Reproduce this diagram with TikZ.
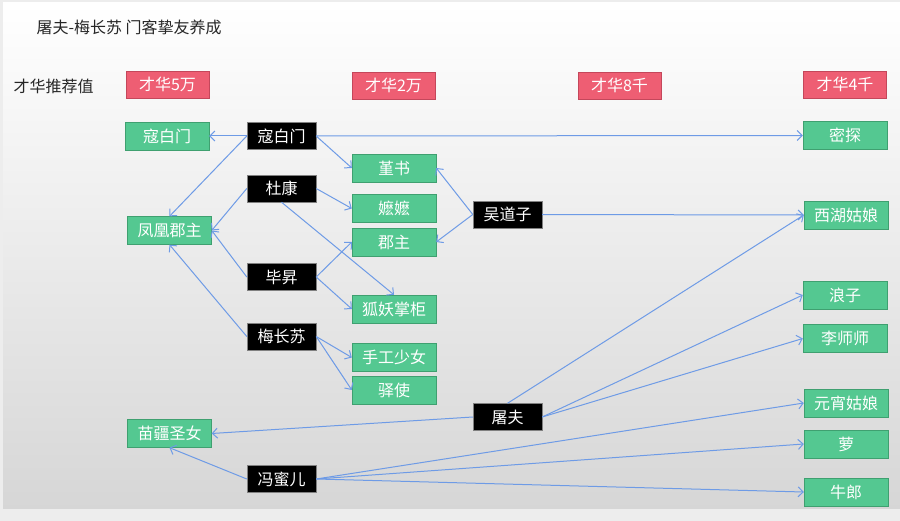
\documentclass[tikz,border=0pt]{standalone}
\usepackage{fontspec}
\setmainfont{Noto Sans CJK SC}
\usetikzlibrary{arrows.meta}
\definecolor{gbox}{HTML}{54C891}
\definecolor{gline}{HTML}{3FA070}
\definecolor{rbox}{HTML}{EE5E73}
\definecolor{rline}{HTML}{C4475B}
\definecolor{link}{HTML}{6E9BE6}

\begin{document}
\begin{tikzpicture}[x=1pt, y=-1pt,
  font=\fontsize{16}{19}\selectfont,
  level/.style={draw=rline, fill=rbox, text=white, minimum width=83pt, minimum height=27pt, inner sep=0pt},
  guest/.style={draw=gline, fill=gbox, text=white, minimum width=84pt, minimum height=28pt, inner sep=0pt},
  host/.style={draw=gray, fill=black, text=white, minimum width=69pt, minimum height=27pt, inner sep=0pt},
  link/.style={draw=link, line width=1pt, -{Straight Barb[length=5pt, width=10pt]}}]
  \useasboundingbox (0,0) rectangle (900,521);
  \fill[black!7] (0,0) rectangle (900,521);
  \shade[top color=white, middle color=black!4, bottom color=black!16] (3,3) rectangle (900,508);

  \node[anchor=west, text=black!85] (title) at (33,27) {屠夫-梅长苏 门客挚友养成};
  \node[anchor=west, text=black!85] (rank) at (10,86) {才华推荐值};

  \node[level] (l1) at (167.5,84.5) {才华5万};
  \node[level] (l2) at (393.5,85.5) {才华2万};
  \node[level] (l3) at (619.5,85.5) {才华8千};
  \node[level] (l4) at (845,84.5) {才华4千};

  % hosts
  \node[host] (kbm) at (281.5,136) {寇白门};
  \node[host] (dk) at (281.5,188.5) {杜康};
  \node[host] (bs) at (281.5,277) {毕昇};
  \node[host] (mcs) at (281.5,336.5) {梅长苏};
  \node[host] (fme) at (281.5,479) {冯蜜儿};
  \node[host] (wdz) at (507.5,214.5) {吴道子};
  \node[host] (tf) at (507.5,417) {屠夫};

  % guests
  \node[guest] (kbmg) at (167,136) {寇白门};
  \node[guest] (fhjz) at (169.5,230.5) {凤凰郡主};
  \node[guest] (mjsn) at (169.5,433.5) {苗疆圣女};

  \node[guest] (js) at (394,168) {堇书};
  \node[guest] (mm) at (394,208.5) {嬷嬷};
  \node[guest] (jz) at (394,242) {郡主};
  \node[guest] (hy) at (394,309) {狐妖掌柜};
  \node[guest] (sg) at (394,357.5) {手工少女};
  \node[guest] (ys) at (394,390) {驿使};

  \node[guest] (mt) at (845,135.5) {密探};
  \node[guest] (xh) at (846,215) {西湖姑娘};
  \node[guest] (lz) at (845,295) {浪子};
  \node[guest] (lss) at (845,338.5) {李师师};
  \node[guest] (yx) at (846,403) {元宵姑娘};
  \node[guest] (luo) at (846,444) {萝};
  \node[guest] (nl) at (846,492) {牛郎};

  % links
  \draw[link] (kbm.west) -- (kbmg.east);
  \draw[link] (kbm.west) -- (fhjz.north);
  \draw[link] (kbm.east) -- (js.west);
  \draw[link] (kbm.east) -- (mt.west);
  \draw[link] (dk.west) -- (fhjz.east);
  \draw[link] (dk.east) -- (mm.west);
  \draw[link] (dk.south) -- (hy.north);
  \draw[link] (bs.west) -- (fhjz.east);
  \draw[link] (bs.east) -- (jz.west);
  \draw[link] (bs.east) -- (hy.west);
  \draw[link] (mcs.west) -- (fhjz.south);
  \draw[link] (mcs.east) -- (sg.west);
  \draw[link] (mcs.east) -- (ys.west);
  \draw[link] (wdz.west) -- (js.east);
  \draw[link] (wdz.west) -- (jz.east);
  \draw[link] (wdz.east) -- (xh.west);
  \draw[link] (tf.north) -- (xh.west);
  \draw[link] (tf.east) -- (lz.west);
  \draw[link] (tf.east) -- (lss.west);
  \draw[link] (tf.west) -- (mjsn.east);
  \draw[link] (fme.west) -- (mjsn.south);
  \draw[link] (fme.east) -- (yx.west);
  \draw[link] (fme.east) -- (luo.west);
  \draw[link] (fme.east) -- (nl.west);
\end{tikzpicture}
\end{document}
